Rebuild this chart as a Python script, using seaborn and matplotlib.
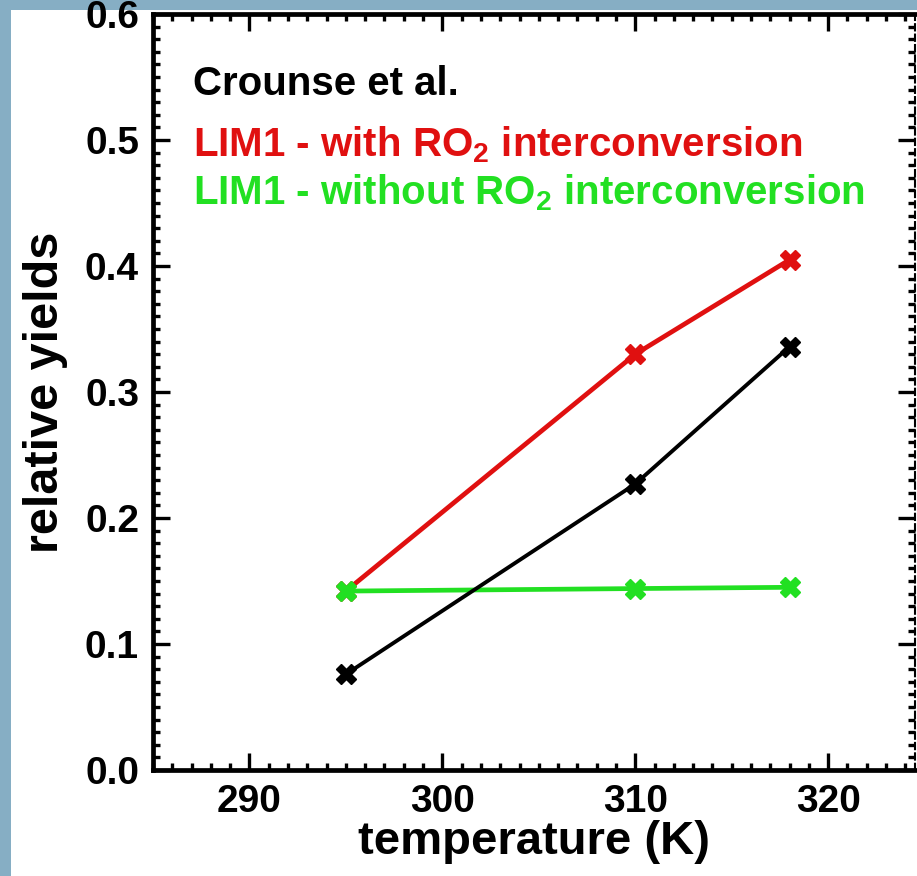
import matplotlib
matplotlib.use("Agg")
import matplotlib.pyplot as plt
from matplotlib.patches import Rectangle
from matplotlib.ticker import MultipleLocator
import seaborn as sns
import pandas as pd

temperature = [295, 310, 318]
crounse = [0.076, 0.227, 0.336]
lim1_with = [0.142, 0.330, 0.405]
lim1_without = [0.142, 0.144, 0.145]

series_names = ["Crounse et al.",
                r"LIM1 - with RO$_{2}$ interconversion",
                r"LIM1 - without RO$_{2}$ interconversion"]
series_colors = ["black", "#e01010", "#22e022"]

sns.set_style("white")
plt.rcParams['font.family'] = ['Liberation Sans', 'DejaVu Sans']
plt.rcParams['font.weight'] = 'bold'
plt.rcParams['text.color'] = 'black'
plt.rcParams['axes.labelcolor'] = 'black'
plt.rcParams['mathtext.fontset'] = 'custom'
plt.rcParams['mathtext.rm'] = 'Liberation Sans:bold'
plt.rcParams['mathtext.it'] = 'Liberation Sans:bold'
plt.rcParams['mathtext.bf'] = 'Liberation Sans:bold'

fig = plt.figure(figsize=(9.17, 8.76), dpi=100)
fig.patch.set_facecolor('#86aec4')
fig.add_artist(Rectangle((11 / 917, 0), 1, 1 - 10 / 876, transform=fig.transFigure,
                         facecolor='white', edgecolor='none', zorder=-5))
ax = fig.add_axes([153 / 917, 1 - 770 / 876, (915 - 153) / 917, (770 - 14) / 876])
ax.set_facecolor('none')

df = pd.DataFrame({"temperature": temperature * 3,
                   "yield": lim1_with + lim1_without + crounse,
                   "series": [series_names[1]] * 3 + [series_names[2]] * 3 + [series_names[0]] * 3})

# draw order: red, green, black on top
for name, lw in [(series_names[1], 3.4), (series_names[2], 3.4), (series_names[0], 2.8)]:
    col = series_colors[series_names.index(name)]
    sub = df[df["series"] == name]
    sns.lineplot(data=sub, x="temperature", y="yield", color=col, lw=lw,
                 marker='X', markersize=15, markeredgecolor=col, markeredgewidth=1,
                 ax=ax, legend=False)

ax.set_xlim(285, 324.5)
ax.set_ylim(0, 0.6)
ax.xaxis.set_major_locator(MultipleLocator(10))
ax.xaxis.set_minor_locator(MultipleLocator(1))
ax.yaxis.set_major_locator(MultipleLocator(0.1))
ax.yaxis.set_minor_locator(MultipleLocator(0.01))
ax.set_yticks([0.0, 0.1, 0.2, 0.3, 0.4, 0.5, 0.6])
ax.set_yticklabels(["0.0", "0.1", "0.2", "0.3", "0.4", "0.5", "0.6"])

ax.tick_params(which='both', direction='in', bottom=True, left=True, top=True, right=True,
               colors='black')
ax.tick_params(which='major', length=12, width=2.4, labelsize=28, pad=10)
ax.tick_params(which='minor', length=5, width=2.4)
ax.tick_params(axis='y', which='major', pad=10)
for lab in ax.get_xticklabels() + ax.get_yticklabels():
    lab.set_fontweight('bold')

for side in ['left', 'bottom', 'top']:
    ax.spines[side].set_linewidth(3.4)
    ax.spines[side].set_color('black')
ax.spines['right'].set_linewidth(1.5)
ax.spines['right'].set_color('black')
ax.spines['right'].set_linestyle((0, (3, 2)))

ax.set_xlabel("temperature (K)", fontsize=34, fontweight='bold', labelpad=0)
ax.set_ylabel("relative yields", fontsize=35, fontweight='bold', labelpad=12)

text_y = [0.536, 0.487, 0.449]
for name, col, ty in zip(series_names, series_colors, text_y):
    ax.text(287.05, ty, name, color=col, fontsize=29, fontweight='bold', va='baseline', ha='left')

fig.savefig("out.png", dpi=100, facecolor=fig.get_facecolor())
